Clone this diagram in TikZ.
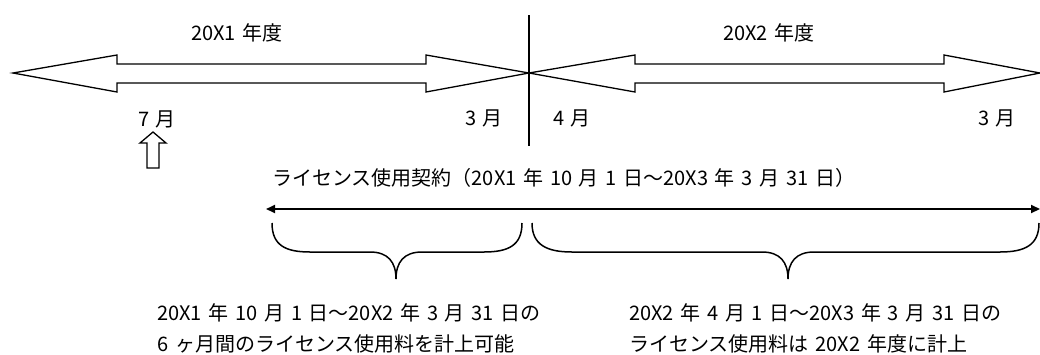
\documentclass[tikz,border=0pt]{standalone}
\usepackage{fontspec}
\setmainfont[WordSpace=1.5]{Noto Sans CJK JP}
\usetikzlibrary{arrows.meta}
\begin{document}
\begin{tikzpicture}[x=1pt,y=-1pt,
  lbl/.style={inner sep=0pt,font=\fontsize{20}{31}\selectfont},
  blockarrow/.style={draw=black,line width=1.3pt,fill=white,line join=miter},
  bracepath/.style={draw=black,line width=1.5pt},
  period/.style={draw=black,line width=2pt,{Triangle[length=9pt,width=8pt]}-{Triangle[length=9pt,width=8pt]}}]
\useasboundingbox (0,0) rectangle (1040,354);
% block double arrows
\path[blockarrow] (13,73) -- (117,55) -- (117,64) -- (426,64) -- (426,55) -- (529,73) -- (426,92) -- (426,83) -- (117,83) -- (117,92) -- cycle;
\path[blockarrow] (529,73) -- (635,55) -- (635,64) -- (944,64) -- (944,55) -- (1040,73) -- (944,92) -- (944,83) -- (635,83) -- (635,92) -- cycle;
% vertical divider
\coordinate (vtop) at (529,15);
\coordinate (vbot) at (529,146);
\draw[line width=1.5pt] (vtop) -- (vbot);
% labels
\node[lbl] (y1) at (237,33) {20X1 年度};
\node[lbl] (y2) at (769,33) {20X2 年度};
\node[lbl] (m7) at (157,119) {7 月};
\node[lbl] (m3a) at (484,118) {3 月};
\node[lbl] (m4) at (572,118) {4 月};
\node[lbl] (m3b) at (997,118) {3 月};
% up arrow
\path[blockarrow,line width=1.3pt] (153,132) -- (166,143) -- (159,143) -- (159,168) -- (147,168) -- (147,143) -- (140,143) -- cycle;
% contract
\node[lbl,anchor=west] (contract) at (272,178) {ライセンス使用契約（20X1 年 10 月 1 日～20X3 年 3 月 31 日）};
\coordinate (cs) at (266,209);
\coordinate (ce) at (1040,209);
\draw[period] (cs) -- (ce);
% braces
\draw[bracepath] (272,223) .. controls (272,245) and (285,252) .. (310,252) -- (370,252) .. controls (388,252) and (396,262) .. (396,279) .. controls (396,262) and (404,252) .. (422,252) -- (484,252) .. controls (509,252) and (522,245) .. (522,223);
\draw[bracepath] (532,223) .. controls (532,245) and (547,252) .. (572,252) -- (762,252) .. controls (780,252) and (788,262) .. (788,279) .. controls (788,262) and (796,252) .. (814,252) -- (1000,252) .. controls (1025,252) and (1039,245) .. (1039,223);
% bottom texts
\node[lbl,anchor=north west,align=left] (noteL) at (157,303) {20X1 年 10 月 1 日～20X2 年 3 月 31 日の\\6 ヶ月間のライセンス使用料を計上可能};
\node[lbl,anchor=north west,align=left] (noteR) at (629,303) {20X2 年 4 月 1 日～20X3 年 3 月 31 日の\\ライセンス使用料は 20X2 年度に計上};
\end{tikzpicture}
\end{document}
